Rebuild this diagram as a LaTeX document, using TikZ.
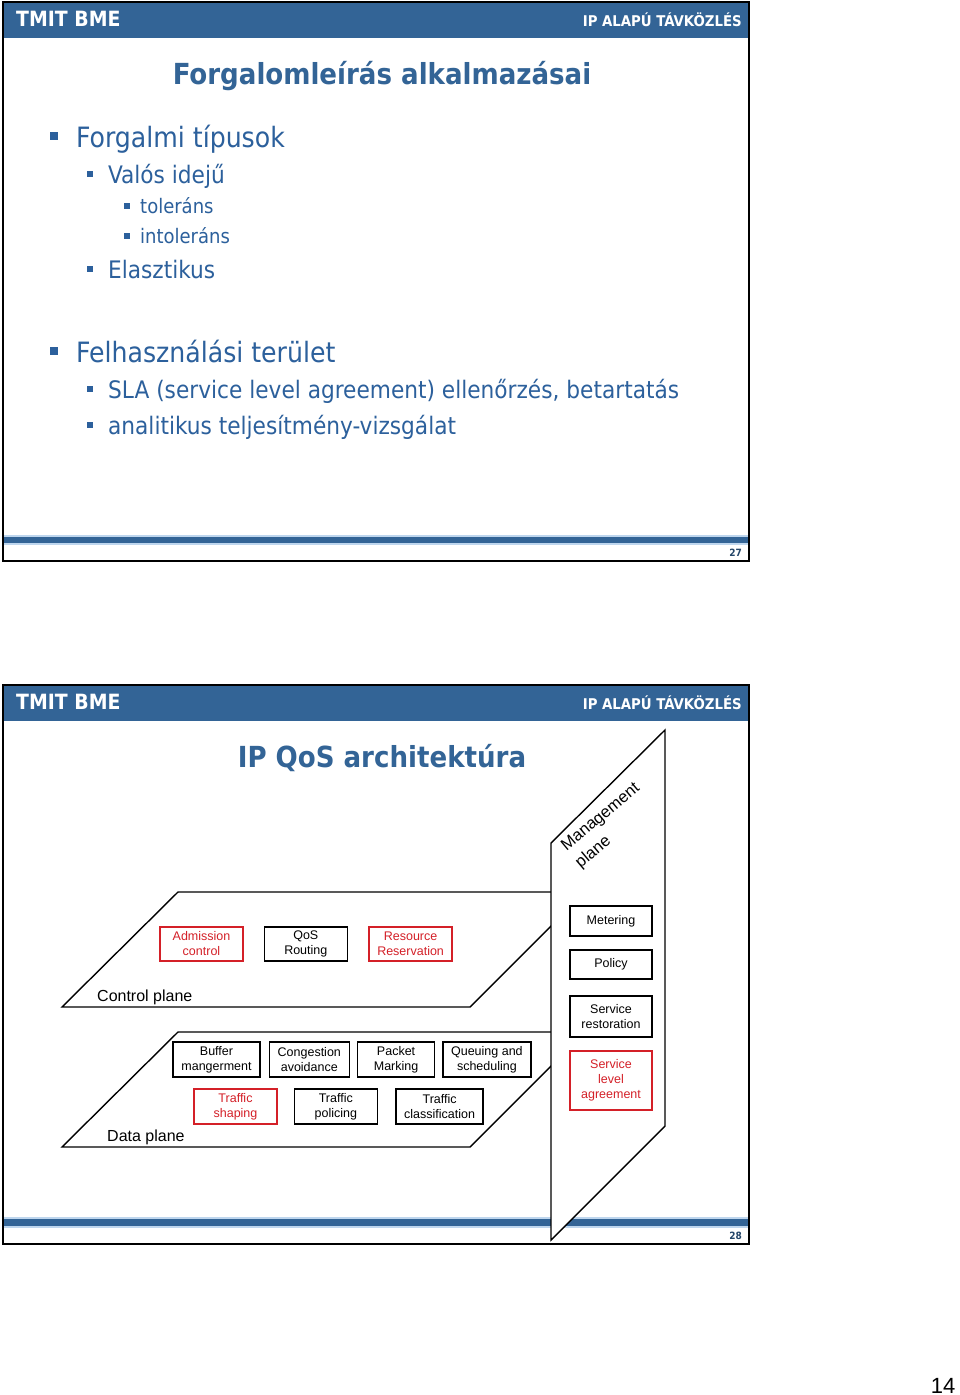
\documentclass[tikz,border=0pt]{standalone}
\usepackage{fontspec}
\setmainfont{Liberation Sans}
\newfontfamily\tahoma{DejaVu Sans Condensed}
\usepackage{xcolor}
\usepackage{tikz}
\usetikzlibrary{positioning}

\definecolor{bmeblue}{RGB}{51,100,150}
\definecolor{txtblue}{RGB}{44,96,156}
\definecolor{lightbar}{RGB}{190,214,238}
\definecolor{qosred}{RGB}{212,32,40}

\begin{document}
\begin{tikzpicture}[x=1pt, y=-1pt,
    slideframe/.style={draw=black, line width=2pt},
    header/.style={font=\tahoma\bfseries\fontsize{21}{25}\selectfont, text=white, inner sep=0pt},
    course/.style={font=\tahoma\bfseries\fontsize{14.8}{17}\selectfont, text=white, inner sep=0pt},
    slidetitle/.style={font=\tahoma\bfseries\fontsize{29}{34}\selectfont, text=bmeblue, inner sep=0pt},
    pageno/.style={font=\tahoma\bfseries\fontsize{10}{12}\selectfont, text=bmeblue!70!black, inner sep=0pt},
    lvl1/.style={font=\tahoma\fontsize{28}{32}\selectfont, text=txtblue, inner sep=0pt, anchor=base west},
    lvl2/.style={font=\tahoma\fontsize{24.1}{28}\selectfont, text=txtblue, inner sep=0pt, anchor=base west},
    lvl3/.style={font=\tahoma\fontsize{20}{24}\selectfont, text=txtblue, inner sep=0pt, anchor=base west},
    bul/.style={rectangle, fill=txtblue, inner sep=0pt, minimum size=#1},
    plane/.style={draw=black, line width=1.4pt, line join=miter},
    planelabel/.style={font=\fontsize{16}{18}\selectfont, inner sep=0pt, anchor=base west},
    box/.style={rectangle, draw=black, line width=1.3pt, fill=white, align=center,
        minimum width=83pt, minimum height=34pt, inner sep=1pt,
        font=\fontsize{12.5}{15}\selectfont},
    redbox/.style={box, draw=qosred, text=qosred}
]
\useasboundingbox (0,0) rectangle (960,1395);

% slide 27
\fill[white] (3,2) rectangle (749,561);
\fill[bmeblue] (3,2) rectangle (749,38);
\fill[lightbar] (4,535) rectangle (748,545);
\fill[bmeblue] (4,537) rectangle (748,543);
\draw[slideframe] (3,2) rectangle (749,561);
\node[header, anchor=base west] (org1) at (16,26) {TMIT BME};
\node[course, anchor=base east] (course1) at (742,26) {IP ALAPÚ TÁVKÖZLÉS};
\node[slidetitle, anchor=base] (title1) at (382,84) {Forgalomleírás alkalmazásai};
\node[pageno, anchor=base east] (page1) at (742,556) {27};

\node[bul=8pt] (b1) at (54,135.5) {};
\node[lvl1] (types) at (76,147) {Forgalmi típusok};
\node[bul=6.5pt] (b2) at (90,174) {};
\node[lvl2] (realtime) at (108,183) {Valós idejű};
\node[bul=5.5pt] (b3) at (127,206) {};
\node[lvl3] (tolerant) at (140,213) {toleráns};
\node[bul=5.5pt] (b4) at (127,236) {};
\node[lvl3] (intolerant) at (140,243) {intoleráns};
\node[bul=6.5pt] (b5) at (90,269) {};
\node[lvl2] (elastic) at (108,278) {Elasztikus};
\node[bul=8pt] (b6) at (54,350.5) {};
\node[lvl1] (usage) at (76,362) {Felhasználási terület};
\node[bul=6.5pt] (b7) at (90,389) {};
\node[lvl2] (sla) at (108,398) {SLA (service level agreement) ellenőrzés, betartatás};
\node[bul=6.5pt] (b8) at (90,425) {};
\node[lvl2] (analysis) at (108,434) {analitikus teljesítmény-vizsgálat};

% slide 28
\fill[white] (3,685) rectangle (749,1244);
\fill[bmeblue] (3,685) rectangle (749,721);
\fill[lightbar] (4,1217) rectangle (748,1228);
\fill[bmeblue] (4,1219) rectangle (748,1226);
\draw[slideframe] (3,685) rectangle (749,1244);
\node[header, anchor=base west] (org2) at (16,709) {TMIT BME};
\node[course, anchor=base east] (course2) at (742,709) {IP ALAPÚ TÁVKÖZLÉS};
\node[slidetitle, anchor=base] (title2) at (382,767) {IP QoS architektúra};
\node[pageno, anchor=base east] (page2) at (742,1239) {28};

\draw[plane, fill=white] (62,1007) -- (178,892) -- (585,892) -- (470,1007) -- cycle;
\draw[plane, fill=white] (62,1147) -- (178,1032) -- (585,1032) -- (470,1147) -- cycle;
\draw[plane, fill=white] (551,843) -- (665,730) -- (665,1126) -- (551,1240) -- cycle;
\node[planelabel] (ctrl) at (97,1001) {Control plane};
\node[planelabel] (data) at (107,1141) {Data plane};
\node[font=\fontsize{16.5}{22}\selectfont, align=left, rotate=40, inner sep=0pt] (mgmt) at (608,826) {Management\\plane};

\node[redbox] (adm) at (201.5,944) {Admission\\control};
\node[box, right=20pt of adm] (routing) {QoS\\Routing};
\node[redbox, right=20.5pt of routing] (resv) {Resource\\Reservation};

\node[box, minimum width=87pt, minimum height=35pt] (buffer) at (216.5,1059.5) {Buffer\\mangerment};
\node[box, minimum width=80pt, minimum height=35pt, right=8pt of buffer] (cong) {Congestion\\avoidance};
\node[box, minimum width=77pt, minimum height=35pt, right=7pt of cong] (marking) {Packet\\Marking};
\node[box, minimum width=88pt, minimum height=35pt, right=7pt of marking] (queue) {Queuing and\\scheduling};
\node[redbox, minimum height=35pt] (shaping) at (235.5,1106.5) {Traffic\\shaping};
\node[box, minimum height=35pt, right=16pt of shaping] (policing) {Traffic\\policing};
\node[box, minimum width=87pt, minimum height=35pt, right=17.5pt of policing] (classif) {Traffic\\classification};

\node[box, minimum width=82pt, minimum height=30pt] (meter) at (611,921) {Metering};
\node[box, minimum width=82pt, minimum height=29pt, below=12.7pt of meter] (policy) {Policy};
\node[box, minimum width=82pt, minimum height=41pt, below=15.7pt of policy] (restore) {Service\\restoration};
\node[redbox, minimum width=82pt, minimum height=59pt, below=12.7pt of restore] (slabox) {Service\\level\\agreement};

\node[font=\fontsize{22}{26}\selectfont, inner sep=0pt, anchor=base] (sheet) at (943,1393) {14};
\end{tikzpicture}
\end{document}
